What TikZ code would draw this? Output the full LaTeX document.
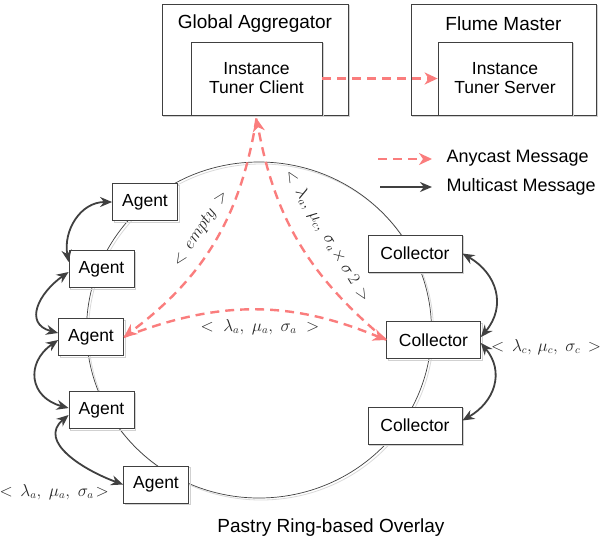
\documentclass[tikz,border=0pt]{standalone}
\usepackage{fontspec}
\setmainfont{Liberation Sans}
\usetikzlibrary{arrows.meta,shadows,calc}
\definecolor{anycast}{RGB}{250,125,125}
\definecolor{dark}{RGB}{64,64,64}
\begin{document}
\begin{tikzpicture}[x=1pt,y=-1pt,
  box/.style={draw=dark,line width=0.8pt,fill=white,inner sep=0pt,
    general shadow={draw=black!18,fill=none,shadow xshift=1.6pt,shadow yshift=-1.6pt}},
  agentbox/.style={box,minimum width=65pt,minimum height=37pt,font=\fontsize{17.5}{20}\selectfont},
  collbox/.style={box,minimum width=94pt,minimum height=37pt,font=\fontsize{17.5}{20}\selectfont},
  inner/.style={box,minimum width=132pt,minimum height=73pt,align=center,font=\fontsize{17.5}{19}\selectfont},
  title/.style={font=\fontsize{19}{22}\selectfont},
  anyarrow/.style={draw=anycast,line width=2.4pt,dash pattern=on 9pt off 6pt,
    -{Stealth[length=13pt,width=12pt,inset=4pt]}},
  multiarrow/.style={draw=dark,line width=1.8pt,
    {Stealth[length=12pt,width=10pt]}-{Stealth[length=12pt,width=10pt]}},
  lbl/.style={font=\fontsize{16}{18}\selectfont,text=black!85,inner sep=1pt}
]
\useasboundingbox (0,0) rectangle (604,542);

% ring
\draw[black!15,line width=0.8pt] (261,332) ellipse [x radius=172.5pt, y radius=168pt];
\draw[dark,line width=0.7pt] (259,330) ellipse [x radius=172.5pt, y radius=168pt];

% top boxes
\node[box,minimum width=186pt,minimum height=111pt] (ga) at (255,59.5) {};
\node[title] (gat) at (255,24) {Global Aggregator};
\node[inner,minimum width=131pt] (gac) at (256.5,78.5) {Instance\\Tuner Client};

\node[box,minimum width=185pt,minimum height=111pt] (fm) at (503.5,59.5) {};
\node[title] (fmt) at (503.5,24) {Flume Master};
\node[inner,minimum width=134pt] (fms) at (505,78.5) {Instance\\Tuner Server};

% agents
\node[agentbox] (a1) at (145,202) {Agent};
\node[agentbox] (a2) at (101.5,269) {Agent};
\node[agentbox] (a3) at (91,337) {Agent};
\node[agentbox] (a4) at (101.5,410) {Agent};
\node[agentbox] (a5) at (156,484.5) {Agent};

% collectors
\node[collbox] (c1) at (415,253.5) {Collector};
\node[collbox] (c2) at (433.5,340) {Collector};
\node[collbox] (c3) at (415,425.5) {Collector};

% multicast connectors
\draw[multiarrow] ($(a2.west)+(0,-7)$) to[out=100,in=180,looseness=1.1] (a1.west);
\draw[multiarrow] ($(a2.west)+(0,3)$) to[out=215,in=165,looseness=1.5] ($(a3.west)+(0,-4)$);
\draw[multiarrow] ($(a3.west)+(0,3)$) to[out=215,in=165,looseness=1.5] ($(a4.west)+(0,-2)$);
\draw[multiarrow] ($(a4.west)+(0,5)$) to[out=220,in=160,looseness=1.2] (a5.west);
\draw[multiarrow] (c1.east) to[out=-30,in=50,looseness=1.2] ($(c2.east)+(0,-3)$);
\draw[multiarrow] ($(c2.east)+(0,3)$) to[out=-50,in=30,looseness=1.2] ($(c3.east)+(0,-5)$);

% anycast connectors
\draw[anyarrow] (gac.east) -- (fms.west);
\draw[anyarrow] ($(gac.south)+(0,3)$) to[bend left=22] (a3.east);
\draw[anyarrow] (a3.east) to[bend left=22] (c2.west);
\draw[anyarrow] (c2.west) to[bend left=20] ($(gac.south)+(0,3)$);

% labels
\node[lbl,rotate=57] (le) at (201,229) {$<\,empty\,>$};
\node[lbl,rotate=-59] (lr) at (327,236) {$<\,\lambda_a,\,\mu_c,\;\sigma_a\!\times\sigma\,2\,>$};
\node[lbl] (lm) at (260,327) {$<\;\lambda_a,\;\mu_a,\;\sigma_a\;>$};
\node[lbl,anchor=west] (lc) at (490,347) {$<\,\lambda_c,\,\mu_c,\;\sigma_c\,>$};
\node[lbl,anchor=east] (la) at (110,492) {$<\,\lambda_a,\;\mu_a,\;\sigma_a\!>$};

% legend
\coordinate (l1s) at (378,159);
\coordinate (l1e) at (432,159);
\coordinate (l2s) at (380,187);
\coordinate (l2e) at (432,187);
\draw[anyarrow] (l1s) -- (l1e);
\draw[draw=dark,line width=1.8pt,-{Stealth[length=12pt,width=10pt]}] (l2s) -- (l2e);
\node[anchor=west,font=\fontsize{18}{20}\selectfont] (t1) at (443,158) {Anycast Message};
\node[anchor=west,font=\fontsize{18}{20}\selectfont] (t2) at (443,187) {Multicast Message};

\node[title] (cap) at (331,528) {Pastry Ring-based Overlay};
\end{tikzpicture}
\end{document}
